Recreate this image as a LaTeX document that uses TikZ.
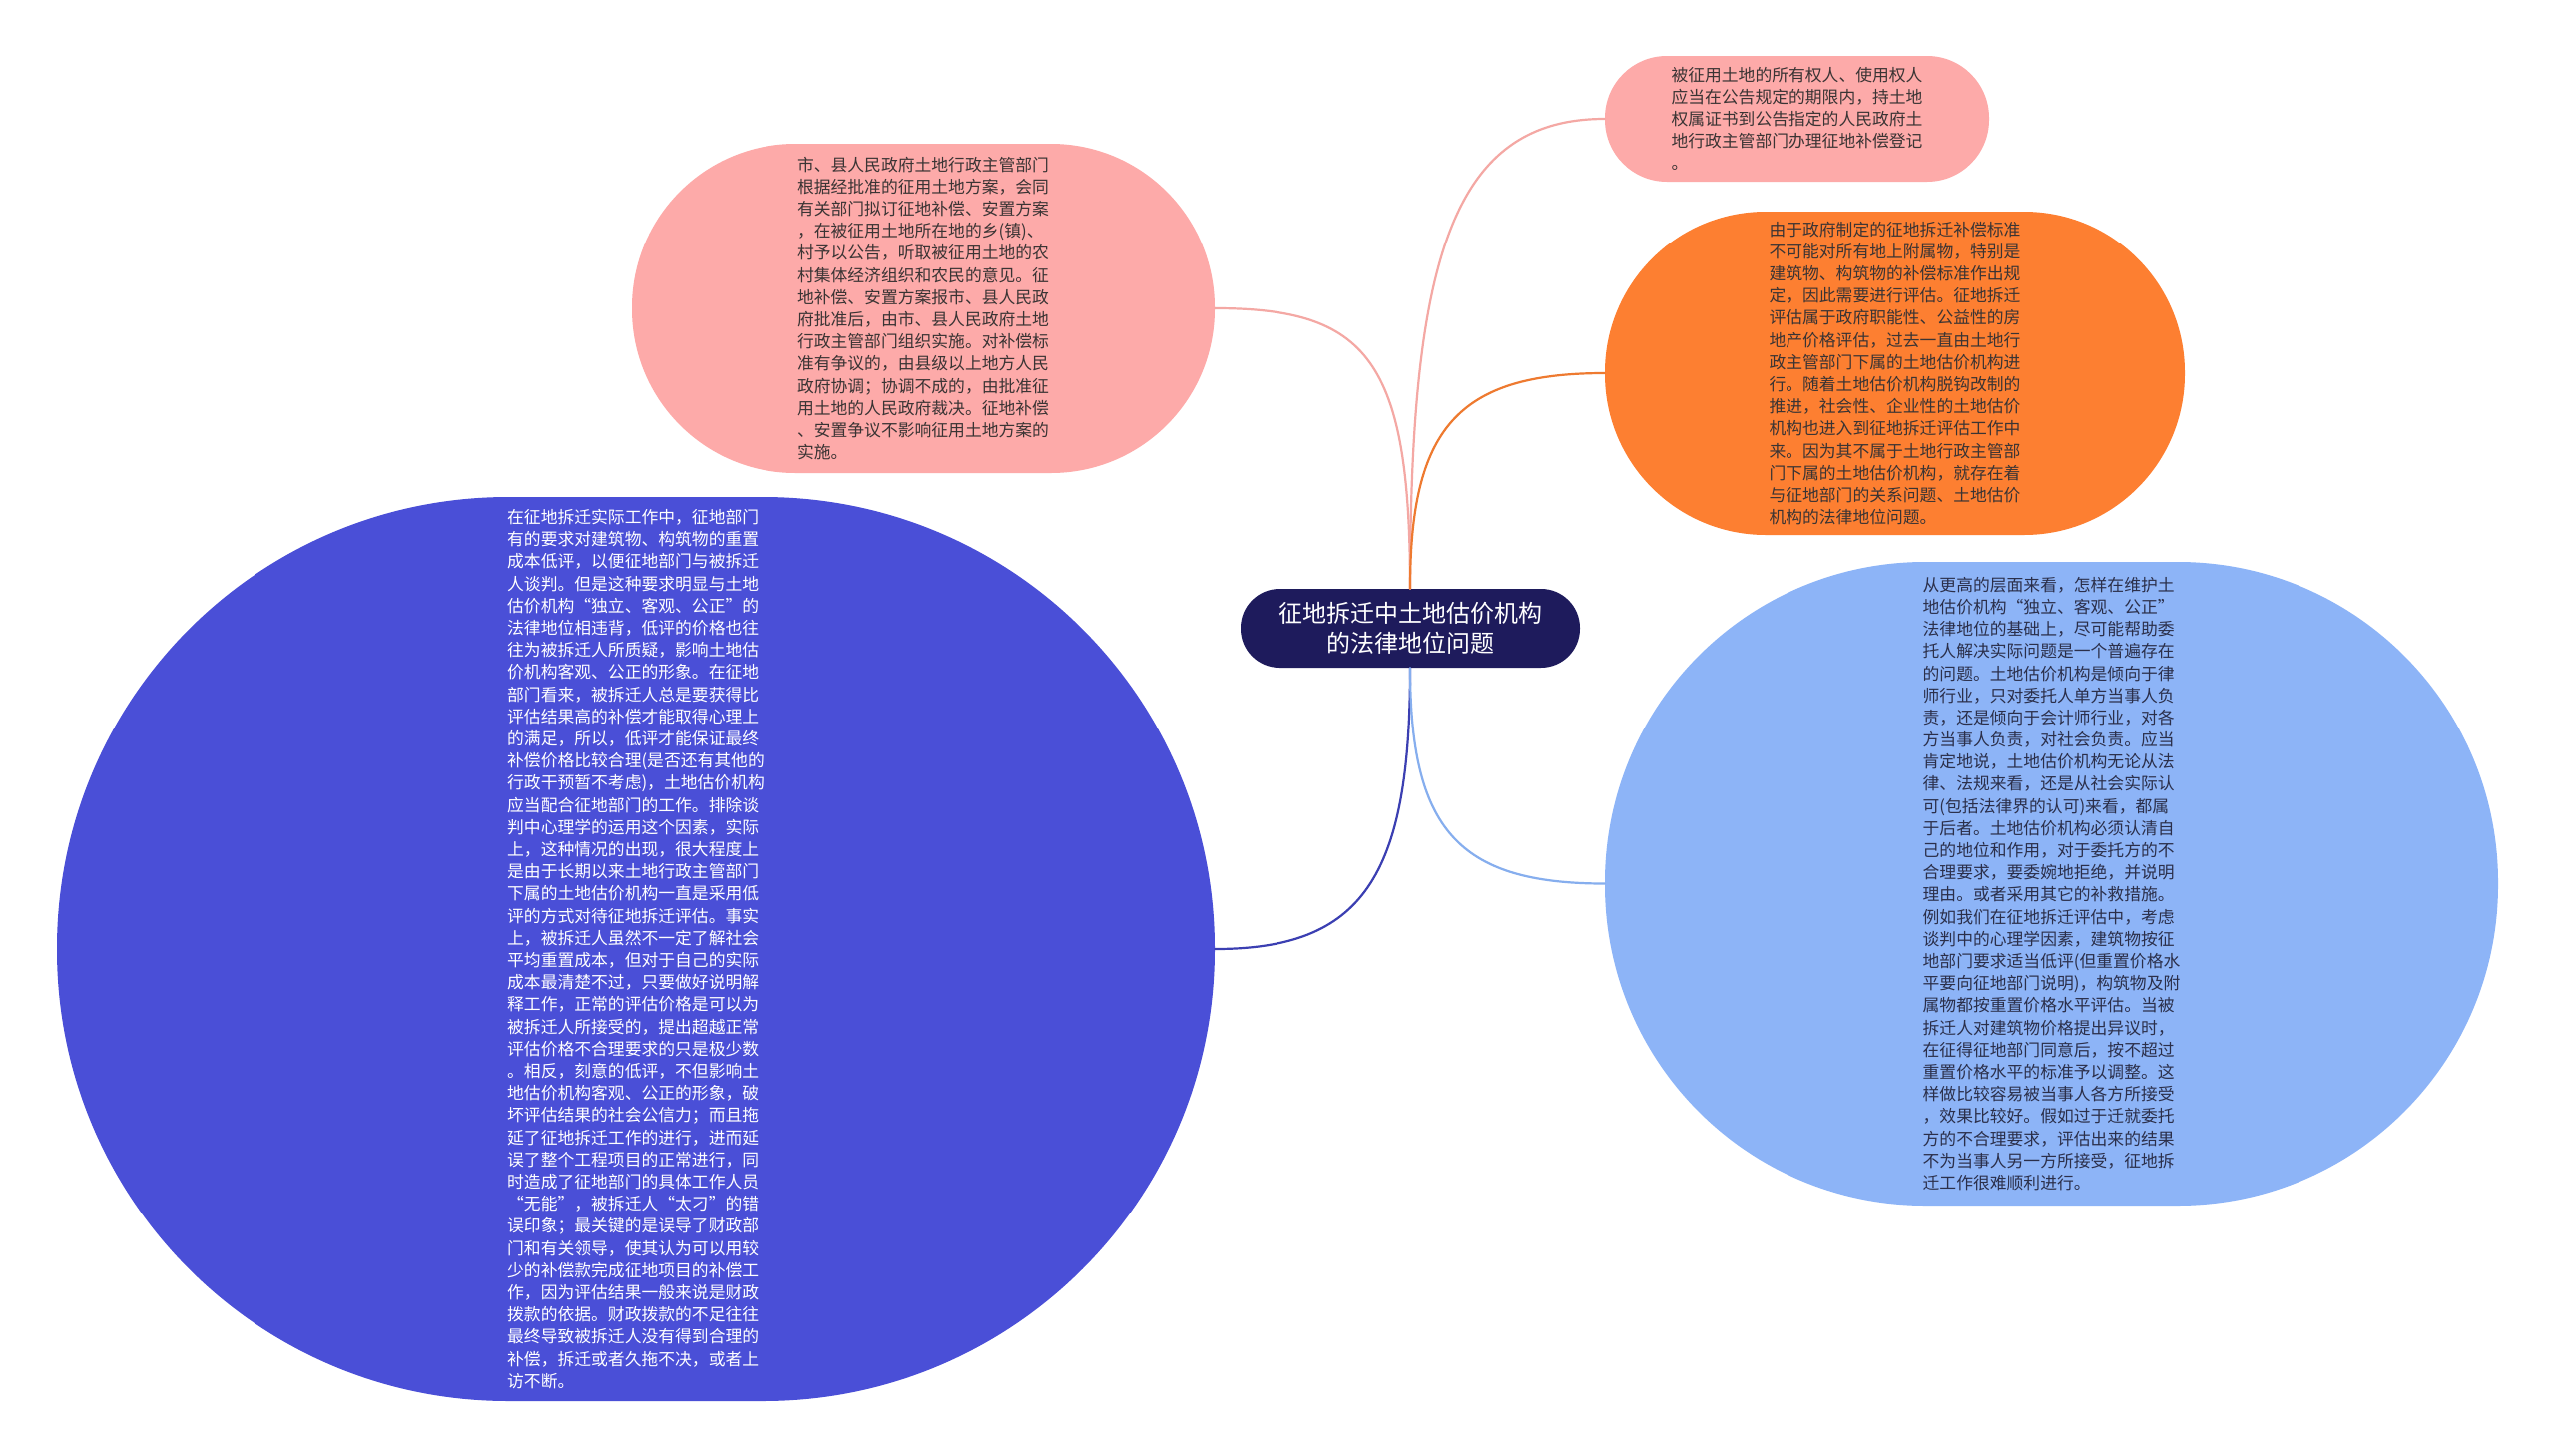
\documentclass[tikz,border=0pt]{standalone}
\usepackage{fontspec}
\setmainfont{Noto Sans CJK SC}
\definecolor{pinkA}{HTML}{FDAAA9}
\definecolor{pinkLine}{HTML}{F4A8A4}
\definecolor{orangeA}{HTML}{FD7F31}
\definecolor{orangeLine}{HTML}{EE7A30}
\definecolor{blueA}{HTML}{4A4FD7}
\definecolor{blueLine}{HTML}{3B3FB2}
\definecolor{lblueA}{HTML}{8DB4F7}
\definecolor{lblueLine}{HTML}{86AEEE}
\definecolor{navyA}{HTML}{1E1B5C}
\definecolor{txtDark}{HTML}{3A3434}
\definecolor{txtBlue}{HTML}{2B2F4A}
\tikzset{
  topicbox/.style={inner sep=0pt, align=left, font=\fontsize{16.8}{22.2}\selectfont},
  rootbox/.style={inner sep=0pt, align=center, fill=navyA, text=white,
    font=\fontsize{24}{30}\selectfont},
  link/.style={line width=2.2pt, line cap=round}
}
\begin{document}
\begin{tikzpicture}[x=1pt,y=-1pt]
\useasboundingbox (0,0) rectangle (2560,1459);
\fill[white] (0,0) rectangle (2560,1459);

% root
\node[rootbox, minimum width=340, minimum height=79, rounded corners=39] (C) at (1413,629.5)
  {征地拆迁中土地估价机构\\的法律地位问题};

% top right pink
\node[topicbox, fill=pinkA, text=txtDark, minimum width=385, minimum height=126, rounded corners=62] (TR) at (1800.5,119)
  {被征用土地的所有权人、使用权人\\应当在公告规定的期限内，持土地\\权属证书到公告指定的人民政府土\\地行政主管部门办理征地补偿登记\\。};

% left pink
\node[topicbox, fill=pinkA, text=txtDark, minimum width=584, minimum height=330, rounded corners=164] (LP) at (925,309)
  {市、县人民政府土地行政主管部门\\根据经批准的征用土地方案，会同\\有关部门拟订征地补偿、安置方案\\，在被征用土地所在地的乡(镇)、\\村予以公告，听取被征用土地的农\\村集体经济组织和农民的意见。征\\地补偿、安置方案报市、县人民政\\府批准后，由市、县人民政府土地\\行政主管部门组织实施。对补偿标\\准有争议的，由县级以上地方人民\\政府协调；协调不成的，由批准征\\用土地的人民政府裁决。征地补偿\\、安置争议不影响征用土地方案的\\实施。};

% orange
\node[topicbox, fill=orangeA, text=txtDark, minimum width=581, minimum height=324, rounded corners=161] (OR) at (1898.5,374)
  {由于政府制定的征地拆迁补偿标准\\不可能对所有地上附属物，特别是\\建筑物、构筑物的补偿标准作出规\\定，因此需要进行评估。征地拆迁\\评估属于政府职能性、公益性的房\\地产价格评估，过去一直由土地行\\政主管部门下属的土地估价机构进\\行。随着土地估价机构脱钩改制的\\推进，社会性、企业性的土地估价\\机构也进入到征地拆迁评估工作中\\来。因为其不属于土地行政主管部\\门下属的土地估价机构，就存在着\\与征地部门的关系问题、土地估价\\机构的法律地位问题。};

% big blue
\node[topicbox, fill=blueA, text=white, minimum width=1160, minimum height=906, rounded corners=452] (BB) at (637,951)
  {在征地拆迁实际工作中，征地部门\\有的要求对建筑物、构筑物的重置\\成本低评，以便征地部门与被拆迁\\人谈判。但是这种要求明显与土地\\估价机构“独立、客观、公正”的\\法律地位相违背，低评的价格也往\\往为被拆迁人所质疑，影响土地估\\价机构客观、公正的形象。在征地\\部门看来，被拆迁人总是要获得比\\评估结果高的补偿才能取得心理上\\的满足，所以，低评才能保证最终\\补偿价格比较合理(是否还有其他的\\行政干预暂不考虑)，土地估价机构\\应当配合征地部门的工作。排除谈\\判中心理学的运用这个因素，实际\\上，这种情况的出现，很大程度上\\是由于长期以来土地行政主管部门\\下属的土地估价机构一直是采用低\\评的方式对待征地拆迁评估。事实\\上，被拆迁人虽然不一定了解社会\\平均重置成本，但对于自己的实际\\成本最清楚不过，只要做好说明解\\释工作，正常的评估价格是可以为\\被拆迁人所接受的，提出超越正常\\评估价格不合理要求的只是极少数\\。相反，刻意的低评，不但影响土\\地估价机构客观、公正的形象，破\\坏评估结果的社会公信力；而且拖\\延了征地拆迁工作的进行，进而延\\误了整个工程项目的正常进行，同\\时造成了征地部门的具体工作人员\\“无能”，被拆迁人“太刁”的错\\误印象；最关键的是误导了财政部\\门和有关领导，使其认为可以用较\\少的补偿款完成征地项目的补偿工\\作，因为评估结果一般来说是财政\\拨款的依据。财政拨款的不足往往\\最终导致被拆迁人没有得到合理的\\补偿，拆迁或者久拖不决，或者上\\访不断。};

% light blue
\node[topicbox, fill=lblueA, text=txtBlue, minimum width=895, minimum height=645, rounded corners=321] (LB) at (2055.5,885.5)
  {从更高的层面来看，怎样在维护土\\地估价机构“独立、客观、公正”\\法律地位的基础上，尽可能帮助委\\托人解决实际问题是一个普遍存在\\的问题。土地估价机构是倾向于律\\师行业，只对委托人单方当事人负\\责，还是倾向于会计师行业，对各\\方当事人负责，对社会负责。应当\\肯定地说，土地估价机构无论从法\\律、法规来看，还是从社会实际认\\可(包括法律界的认可)来看，都属\\于后者。土地估价机构必须认清自\\己的地位和作用，对于委托方的不\\合理要求，要委婉地拒绝，并说明\\理由。或者采用其它的补救措施。\\例如我们在征地拆迁评估中，考虑\\谈判中的心理学因素，建筑物按征\\地部门要求适当低评(但重置价格水\\平要向征地部门说明)，构筑物及附\\属物都按重置价格水平评估。当被\\拆迁人对建筑物价格提出异议时，\\在征得征地部门同意后，按不超过\\重置价格水平的标准予以调整。这\\样做比较容易被当事人各方所接受\\，效果比较好。假如过于迁就委托\\方的不合理要求，评估出来的结果\\不为当事人另一方所接受，征地拆\\迁工作很难顺利进行。};

% connectors
\draw[link, pinkLine] (C.north) .. controls (1413,260) and (1455,119) .. (TR.west);
\draw[link, pinkLine] (C.north) .. controls (1413,360) and (1370,309) .. (LP.east);
\draw[link, orangeLine] (C.north) .. controls (1413,430) and (1460,374) .. (OR.west);
\draw[link, blueLine] (C.south) .. controls (1413,880) and (1365,951) .. (BB.east);
\draw[link, lblueLine] (C.south) .. controls (1413,830) and (1460,885.5) .. (LB.west);
\end{tikzpicture}
\end{document}
